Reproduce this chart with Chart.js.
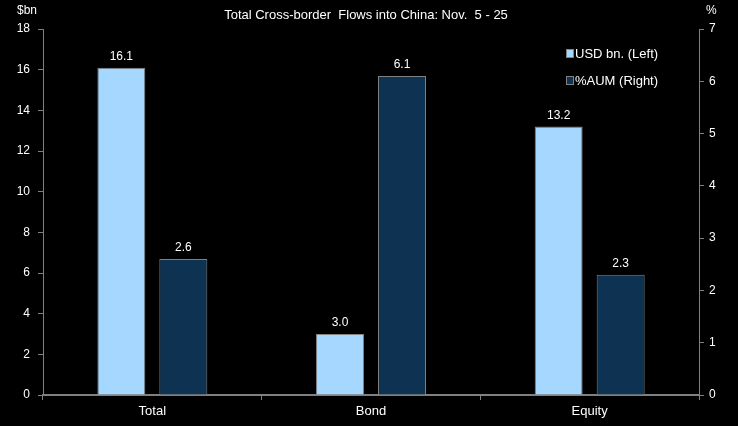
<!DOCTYPE html>
<html>
<head>
<meta charset="utf-8">
<script src="https://cdn.jsdelivr.net/npm/chart.js@4/dist/chart.umd.min.js"></script>
<style>
  html, body { margin: 0; padding: 0; background: #000; }
  #wrap { width: 738px; height: 426px; position: relative; }
</style>
</head>
<body>
<div id="wrap"><canvas id="flowsChart"></canvas></div>
<script>
var categories = ['Total', 'Bond', 'Equity'];
var usdBn = [16.1, 3.0, 13.2];
var pctAum = [2.6, 6.1, 2.3];
var seriesNames = ['USD bn. (Left)', '%AUM (Right)'];
var chartTitle = 'Total Cross-border  Flows into China: Nov.  5 - 25';

var FONT = '"Liberation Sans", Arial, sans-serif';
var LIGHT = '#A6D7FF';
var DARK = '#0E3352';
var GREY = '#808080';

// value labels above bars, legend, axis captions, title
var decorPlugin = {
  id: 'decor',
  afterDatasetsDraw: function (chart) {
    var ctx = chart.ctx;
    ctx.save();
    ctx.fillStyle = '#ffffff';
    ctx.font = '12px ' + FONT;
    ctx.textAlign = 'center';
    ctx.textBaseline = 'bottom';
    chart.data.datasets.forEach(function (ds, i) {
      chart.getDatasetMeta(i).data.forEach(function (bar, j) {
        ctx.fillText(ds.data[j].toFixed(1), bar.x, bar.y - 5);
      });
    });

    // title
    ctx.font = '13px ' + FONT;
    ctx.textBaseline = 'middle';
    ctx.fillText(chartTitle, 366, 15);

    // axis captions
    ctx.font = '12px ' + FONT;
    ctx.textAlign = 'left';
    ctx.fillText('$bn', 17, 11);
    ctx.fillText('%', 706, 11);

    // legend
    ctx.font = '13px ' + FONT;
    var colors = [LIGHT, DARK];
    seriesNames.forEach(function (name, i) {
      var y = 53 + i * 27;
      ctx.fillStyle = colors[i];
      ctx.fillRect(567, y - 3, 6, 7);
      ctx.strokeStyle = GREY;
      ctx.lineWidth = 1;
      ctx.strokeRect(566.5, y - 3.5, 7, 8);
      ctx.fillStyle = '#ffffff';
      ctx.fillText(name, 575, y + 1);
    });
    ctx.restore();
  }
};

new Chart(document.getElementById('flowsChart'), {
  type: 'bar',
  data: {
    labels: categories,
    datasets: [{
      label: seriesNames[0],
      data: usdBn,
      yAxisID: 'y',
      backgroundColor: LIGHT,
      borderColor: GREY,
      borderWidth: 1,
      categoryPercentage: 0.567,
      barPercentage: 0.774
    }, {
      label: seriesNames[1],
      data: pctAum,
      yAxisID: 'y1',
      backgroundColor: DARK,
      borderColor: GREY,
      borderWidth: 1,
      categoryPercentage: 0.567,
      barPercentage: 0.774
    }]
  },
  options: {
    responsive: true,
    maintainAspectRatio: false,
    animation: false,
    layout: { padding: { top: 29, left: 0, right: 0, bottom: 0 } },
    plugins: {
      legend: { display: false },
      tooltip: { enabled: false }
    },
    scales: {
      x: {
        afterFit: function (s) { s.height = 31; },
        border: { color: GREY, width: 2 },
        grid: { drawOnChartArea: false, color: GREY, tickLength: 5, offset: true },
        ticks: { color: '#ffffff', font: { family: FONT, size: 13 }, padding: 4 }
      },
      y: {
        position: 'left',
        min: 0,
        max: 18,
        afterFit: function (s) { s.width = 43; },
        border: { color: GREY, width: 1 },
        grid: { drawOnChartArea: false, color: GREY, tickLength: 5 },
        ticks: { stepSize: 2, color: '#ffffff', font: { family: FONT, size: 12 }, padding: 8 }
      },
      y1: {
        position: 'right',
        min: 0,
        max: 7,
        afterFit: function (s) { s.width = 39; },
        border: { color: GREY, width: 1 },
        grid: { drawOnChartArea: false, color: GREY, tickLength: 5 },
        ticks: { stepSize: 1, color: '#ffffff', font: { family: FONT, size: 12 }, padding: 5 }
      }
    }
  },
  plugins: [decorPlugin]
});
</script>
</body>
</html>
